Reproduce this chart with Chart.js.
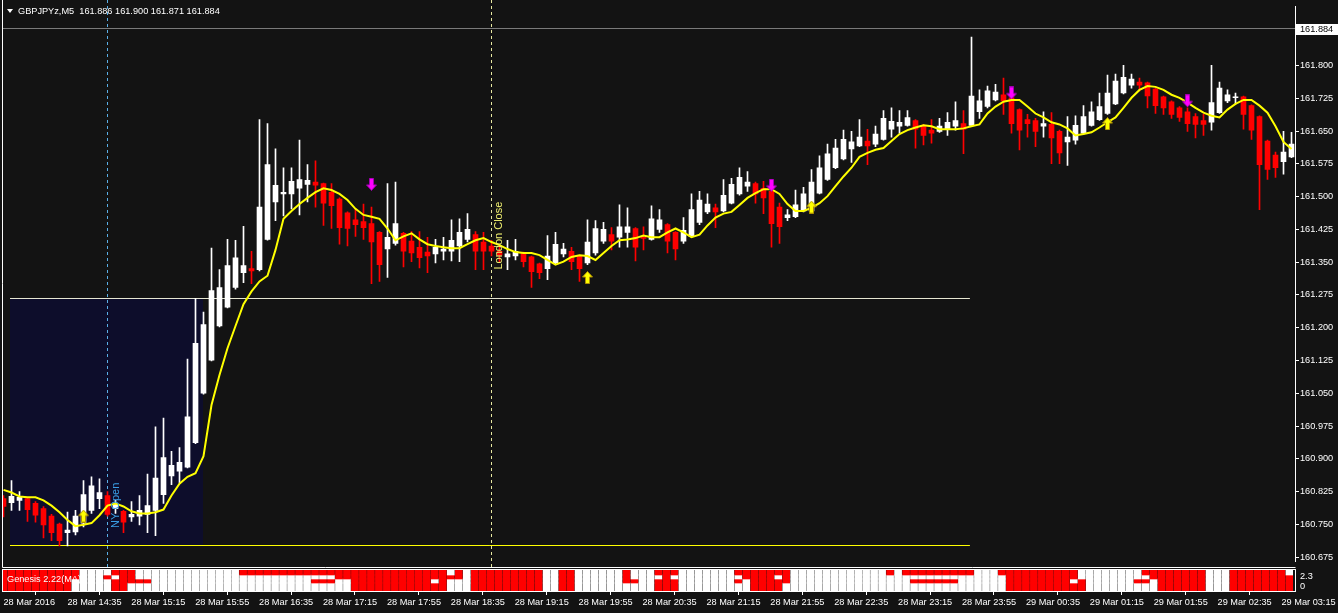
<!DOCTYPE html>
<html>
<head>
<meta charset="utf-8">
<script src="https://cdn.jsdelivr.net/npm/chart.js@4.4.1/dist/chart.umd.min.js"></script>
<style>
  html, body { margin: 0; padding: 0; background: #131313; }
  #wrap { position: relative; width: 1338px; height: 613px; overflow: hidden; }
  #price { position: absolute; left: 0; top: 0; }
  #genesis { position: absolute; left: 0; top: 568px; }
</style>
</head>
<body>
<div id="wrap">
  <canvas id="price" width="1338" height="568"></canvas>
  <canvas id="genesis" width="1338" height="45"></canvas>
</div>
<script>
// GBPJPYz M5, one value per bar, bar 0 = 28 Mar 13:55
const opens = [
  160.809,160.800,160.805,160.809,160.798,160.786,160.769,160.751,160.731,160.733,
  160.753,160.782,160.809,160.816,160.786,160.780,160.767,160.769,160.773,160.782,
  160.818,160.861,160.872,160.881,160.937,161.050,161.126,161.204,161.247,161.292,
  161.326,161.335,161.333,161.402,161.488,161.506,161.506,161.519,161.528,161.533,
  161.530,161.510,161.494,161.463,161.447,161.443,161.438,161.418,161.380,161.393,
  161.416,161.398,161.384,161.373,161.369,161.375,161.375,161.387,161.402,161.413,
  161.396,161.387,161.375,161.362,161.364,161.371,161.362,161.346,161.335,161.348,
  161.369,161.375,161.364,161.348,161.371,161.398,161.413,161.407,161.418,161.427,
  161.407,161.402,161.425,161.436,161.418,161.398,161.409,161.441,161.465,161.474,
  161.467,161.485,161.506,161.524,161.530,161.519,161.512,161.476,161.452,161.454,
  161.467,161.467,161.508,161.539,161.566,161.586,161.609,161.616,161.627,161.620,
  161.631,161.654,161.661,161.663,161.674,161.663,161.652,161.649,161.654,161.661,
  161.667,161.663,161.694,161.706,161.721,161.733,161.726,161.699,161.676,161.674,
  161.661,161.665,161.649,161.625,161.629,161.645,161.663,161.676,161.690,161.712,
  161.737,161.755,161.762,161.760,161.746,161.728,161.717,161.703,161.694,161.683,
  161.674,161.670,161.692,161.719,161.726,161.728,161.708,161.683,161.627,161.595,
  161.580,161.591
];
const highs = [
  160.816,160.850,160.825,160.812,160.802,160.791,160.773,160.753,160.778,160.782,
  160.850,160.859,160.854,160.825,160.805,160.782,160.802,160.816,160.865,160.973,
  160.993,160.917,160.926,161.128,161.267,161.236,161.382,161.333,161.402,161.400,
  161.432,161.375,161.676,161.667,161.609,161.566,161.566,161.629,161.573,161.582,
  161.531,161.530,161.497,161.465,161.472,161.483,161.476,161.420,161.530,161.533,
  161.418,161.420,161.420,161.407,161.402,161.407,161.447,161.449,161.461,161.420,
  161.418,161.400,161.389,161.400,161.402,161.373,161.364,161.348,161.411,161.418,
  161.393,161.384,161.366,161.447,161.445,161.441,161.429,161.481,161.474,161.429,
  161.431,161.479,161.470,161.438,161.420,161.452,161.506,161.512,161.506,161.483,
  161.539,161.542,161.566,161.557,161.533,161.535,161.517,161.485,161.470,161.515,
  161.521,161.562,161.593,161.620,161.631,161.652,161.649,161.676,161.654,161.661,
  161.697,161.703,161.697,161.697,161.676,161.665,161.676,161.679,161.692,161.717,
  161.697,161.865,161.744,161.753,161.757,161.771,161.728,161.701,161.688,161.679,
  161.694,161.692,161.652,161.683,161.685,161.708,161.717,161.737,161.778,161.780,
  161.800,161.780,161.771,161.762,161.748,161.730,161.719,161.706,161.703,161.690,
  161.688,161.800,161.762,161.744,161.737,161.730,161.710,161.685,161.629,161.602,
  161.649,161.647
];
const lows = [
  160.767,160.782,160.782,160.757,160.755,160.719,160.713,160.701,160.701,160.726,
  160.744,160.775,160.786,160.769,160.775,160.731,160.757,160.749,160.731,160.724,
  160.798,160.841,160.845,160.879,160.935,161.048,161.124,161.202,161.245,161.288,
  161.303,161.301,161.330,161.400,161.445,161.456,161.472,161.458,161.488,161.476,
  161.434,161.427,161.391,161.387,161.409,161.402,161.301,161.306,161.315,161.389,
  161.339,161.351,161.337,161.326,161.348,161.355,161.353,161.351,161.396,161.333,
  161.333,161.364,161.351,161.333,161.355,161.339,161.292,161.312,161.310,161.344,
  161.362,161.333,161.306,161.344,161.366,161.393,161.378,161.384,161.384,161.353,
  161.378,161.400,161.418,161.371,161.355,161.393,161.407,161.436,161.461,161.429,
  161.465,161.483,161.503,161.512,161.485,161.461,161.384,161.393,161.445,161.452,
  161.465,161.465,161.506,161.537,161.564,161.584,161.578,161.614,161.573,161.614,
  161.629,161.636,161.645,161.661,161.611,161.618,161.622,161.647,161.640,161.652,
  161.598,161.661,161.679,161.703,161.719,161.688,161.645,161.607,161.636,161.614,
  161.636,161.575,161.575,161.571,161.620,161.643,161.661,161.674,161.688,161.710,
  161.735,161.748,161.742,161.703,161.690,161.688,161.679,161.672,161.649,161.634,
  161.640,161.652,161.690,161.715,161.712,161.654,161.631,161.470,161.539,161.544,
  161.551,161.589
];
const closes = [
  160.791,160.814,160.812,160.784,160.771,160.749,160.731,160.713,160.737,160.769,
  160.818,160.838,160.823,160.773,160.796,160.755,160.773,160.782,160.793,160.856,
  160.903,160.885,160.892,160.996,161.164,161.207,161.285,161.292,161.342,161.360,
  161.342,161.330,161.476,161.573,161.526,161.510,161.535,161.539,161.537,161.526,
  161.485,161.479,161.429,161.427,161.436,161.429,161.396,161.344,161.407,161.438,
  161.375,161.371,161.360,161.364,161.384,161.380,161.400,161.418,161.425,161.375,
  161.375,161.375,161.366,161.369,161.375,161.351,161.328,161.326,161.364,161.391,
  161.380,161.351,161.335,161.396,161.427,161.425,161.398,161.431,161.431,161.384,
  161.404,161.449,161.447,161.398,161.380,161.423,161.470,161.492,161.483,161.465,
  161.503,161.528,161.544,161.533,161.506,161.497,161.438,161.431,161.458,161.481,
  161.506,161.533,161.566,161.598,161.611,161.631,161.625,161.636,161.616,161.643,
  161.679,161.672,161.670,161.681,161.654,161.640,161.645,161.661,161.670,161.674,
  161.654,161.730,161.719,161.742,161.739,161.719,161.667,161.652,161.667,161.649,
  161.667,161.634,161.600,161.636,161.663,161.683,161.694,161.706,161.737,161.764,
  161.773,161.769,161.755,161.730,161.708,161.703,161.688,161.681,161.667,161.665,
  161.665,161.715,161.748,161.733,161.728,161.688,161.652,161.573,161.562,161.566,
  161.602,161.620
];
// yellow moving average
const maValues = [
  160.829,160.823,160.814,160.812,160.812,160.805,160.793,160.778,160.760,160.746,
  160.749,160.753,160.771,160.793,160.798,160.791,160.780,160.775,160.775,160.778,
  160.784,160.816,160.843,160.859,160.867,160.906,161.023,161.092,161.153,161.204,
  161.254,161.283,161.306,161.319,161.378,161.449,161.467,161.483,161.497,161.510,
  161.519,161.515,161.506,161.492,161.472,161.458,161.454,161.449,161.427,161.400,
  161.409,161.416,161.402,161.391,161.387,161.384,161.382,161.382,161.391,161.400,
  161.405,161.396,161.389,161.380,161.373,161.371,161.371,161.366,161.355,161.344,
  161.351,161.362,161.366,161.364,161.355,161.371,161.387,161.400,161.402,161.405,
  161.411,161.407,161.407,161.418,161.427,161.418,161.407,161.413,161.434,161.452,
  161.461,161.465,161.481,161.497,161.508,161.517,161.517,161.506,161.483,161.467,
  161.467,161.474,161.485,161.501,161.524,161.546,161.566,161.591,161.600,161.607,
  161.611,161.627,161.643,161.652,161.658,161.663,161.661,161.654,161.654,161.654,
  161.656,161.661,161.665,161.690,161.706,161.717,161.721,161.721,161.706,161.690,
  161.681,161.670,161.665,161.656,161.640,161.643,161.647,161.658,161.670,161.681,
  161.703,161.726,161.744,161.753,161.751,161.744,161.733,161.726,161.715,161.703,
  161.692,161.685,161.681,161.699,161.712,161.721,161.721,161.708,161.692,161.661,
  161.625,161.609
];
// signal arrows
const upArrowBars = [10, 73, 101, 138];
const upArrowPrices = [160.769, 161.315, 161.476, 161.667];
const downArrowBars = [46, 96, 126, 148];
const downArrowPrices = [161.528, 161.526, 161.737, 161.719];

// Genesis panel: 4 rows per bar, top to bottom, 1 = red
const genesisCodes = [
  "1111","1111","1111","1111","1111","1111","1111","1111","1111","1100",
  "0000","0000","0000","0100","1011","1111","1110","0010","0010","0000",
  "0000","0000","0000","0000","0000","0000","0000","0000","0000","0000",
  "1000","1000","1000","1000","1000","1000","1000","1000","1000","1010",
  "1010","1010","1100","1100","1111","1111","1111","1111","1111","1111",
  "1111","1111","1111","1111","1101","1111","0100","1100","0000","1111",
  "1111","1111","1111","1111","1111","1111","1111","1111","0000","0000",
  "1111","1111","0000","0000","0000","0000","0000","0000","1110","0010",
  "0000","0000","1011","1111","1011","0000","0000","0000","0000","0000",
  "0000","0000","1010","1100","1111","1111","1111","1011","1110","0000",
  "0000","0000","0000","0000","0000","0000","0000","0000","0000","0000",
  "0000","1000","0000","1000","1010","1010","1010","1010","1010","1010",
  "1000","1000","0000","0000","0000","1000","1111","1111","1111","1111",
  "1111","1111","1111","1111","1101","0011","0000","0000","0000","0000",
  "0000","0000","0010","1010","1100","1111","1111","1111","1111","1111",
  "1111","0000","0000","0000","1111","1111","1111","1111","1111","1111",
  "1111","0111"
];

// session levels and markers
const sessionHigh = 161.267;
const sessionLow = 160.704;
const sessionStartBar = 0.8;
const sessionEndBar = 24.95;
const levelsEndBar = 120.8;
const nyOpenBar = 13;
const londonCloseBar = 61;
const nyLabelPrice = 160.742;
const londonLabelPrice = 161.333;
const bidPrice = 161.884;

const priceTicks = [160.675,160.750,160.825,160.900,160.975,161.050,161.125,161.200,161.275,
  161.350,161.425,161.500,161.575,161.650,161.725,161.800,161.875];
const tickBars = [0,8,16,24,32,40,48,56,64,72,80,88,96,104,112,120,128,136,144,152,160];
const timeLabels = ["28 Mar 2016","28 Mar 14:35","28 Mar 15:15","28 Mar 15:55","28 Mar 16:35",
  "28 Mar 17:15","28 Mar 17:55","28 Mar 18:35","28 Mar 19:15","28 Mar 19:55","28 Mar 20:35",
  "28 Mar 21:15","28 Mar 21:55","28 Mar 22:35","28 Mar 23:15","28 Mar 23:55","29 Mar 00:35",
  "29 Mar 01:15","29 Mar 01:55","29 Mar 02:35","29 Mar 03:15"];
const headerText = "GBPJPYz,M5  161.886 161.900 161.871 161.884";

// ---- look ----
const BG = '#131313';
const BULL = '#ffffff';
const BEAR = '#ff0000';
const TXT = '#ffffff';
const FONT = "'Liberation Sans', Arial, sans-serif";
const X_MIN = -0.0625, X_MAX = 161.4375;
const Y_MIN = 160.6652, Y_MAX = 161.9348;
const ROWS = [[16, 21], [12, 16], [8, 12], [0, 8]];

Chart.defaults.font.family = FONT;
Chart.defaults.font.size = 9.2;

const bars = opens.map((v, i) => i);

function arrowImage(up, fill, edge) {
  const c = document.createElement('canvas');
  c.width = 11; c.height = 13;
  const g = c.getContext('2d');
  g.beginPath();
  if (up) {
    g.moveTo(5.5, 0.5); g.lineTo(10.5, 6); g.lineTo(7.5, 6); g.lineTo(7.5, 12.5);
    g.lineTo(3.5, 12.5); g.lineTo(3.5, 6); g.lineTo(0.5, 6);
  } else {
    g.moveTo(5.5, 12.5); g.lineTo(10.5, 7); g.lineTo(7.5, 7); g.lineTo(7.5, 0.5);
    g.lineTo(3.5, 0.5); g.lineTo(3.5, 7); g.lineTo(0.5, 7);
  }
  g.closePath();
  g.fillStyle = fill; g.fill();
  g.strokeStyle = edge; g.lineWidth = 1; g.stroke();
  return c;
}
const upImg = arrowImage(true, '#ffff00', '#b09000');
const downImg = arrowImage(false, '#ff00ff', '#a000b0');

const candleColor = i => closes[i] >= opens[i] ? BULL : BEAR;

const decor = {
  id: 'decor',
  beforeDraw(chart) {
    const c = chart.ctx;
    c.save();
    c.fillStyle = BG;
    c.fillRect(0, 0, chart.width, chart.height);
    c.restore();
  },
  beforeDatasetsDraw(chart) {
    const { ctx, scales: { x, y } } = chart;
    ctx.save();
    const bx1 = Math.round(x.getPixelForValue(sessionStartBar)), bx2 = Math.round(x.getPixelForValue(sessionEndBar));
    const yH = Math.round(y.getPixelForValue(sessionHigh)), yL = Math.round(y.getPixelForValue(sessionLow));
    ctx.fillStyle = '#0d0d2b';
    ctx.fillRect(bx1, yH, bx2 - bx1, yL - yH);
    const lx2 = x.getPixelForValue(levelsEndBar);
    ctx.lineWidth = 1;
    ctx.strokeStyle = '#e6e6d2';
    ctx.beginPath(); ctx.moveTo(bx1, yH + 0.5); ctx.lineTo(lx2, yH + 0.5); ctx.stroke();
    ctx.strokeStyle = '#ffff00';
    ctx.beginPath(); ctx.moveTo(bx1, yL + 0.5); ctx.lineTo(lx2, yL + 0.5); ctx.stroke();
    // session verticals
    ctx.setLineDash([3, 3]);
    const nx = Math.floor(x.getPixelForValue(nyOpenBar)) + 0.5;
    ctx.strokeStyle = '#5ab0e8';
    ctx.beginPath(); ctx.moveTo(nx, 0); ctx.lineTo(nx, 567); ctx.stroke();
    const lcx = Math.floor(x.getPixelForValue(londonCloseBar)) + 0.5;
    ctx.strokeStyle = '#e8e8a0';
    ctx.beginPath(); ctx.moveTo(lcx, 0); ctx.lineTo(lcx, 567); ctx.stroke();
    ctx.setLineDash([]);
    // bid line
    const by = Math.floor(y.getPixelForValue(bidPrice)) + 0.5;
    ctx.strokeStyle = '#7a7a7a';
    ctx.beginPath(); ctx.moveTo(3, by); ctx.lineTo(1295, by); ctx.stroke();
    ctx.restore();
  },
  afterDatasetsDraw(chart) {
    const { ctx, scales: { x, y } } = chart;
    ctx.save();
    ctx.font = "11px " + FONT;
    ctx.textBaseline = 'top';
    ctx.textAlign = 'left';
    ctx.translate(x.getPixelForValue(nyOpenBar) + 3, y.getPixelForValue(nyLabelPrice));
    ctx.rotate(-Math.PI / 2);
    ctx.fillStyle = '#3a9fe6';
    ctx.fillText('NY Open', 0, 0);
    ctx.restore();
    ctx.save();
    ctx.font = "11px " + FONT;
    ctx.textBaseline = 'top';
    ctx.textAlign = 'left';
    ctx.translate(x.getPixelForValue(londonCloseBar) + 2, y.getPixelForValue(londonLabelPrice));
    ctx.rotate(-Math.PI / 2);
    ctx.fillStyle = '#f0f070';
    ctx.fillText('London Close', 0, 0);
    ctx.restore();
  },
  afterDraw(chart) {
    const { ctx, scales: { y } } = chart;
    ctx.save();
    // frame
    ctx.strokeStyle = '#ffffff';
    ctx.lineWidth = 1;
    ctx.beginPath();
    ctx.moveTo(2.5, 0); ctx.lineTo(2.5, 567.5); ctx.lineTo(1295.5, 567.5);
    ctx.stroke();
    // header
    ctx.fillStyle = '#ffffff';
    ctx.beginPath(); ctx.moveTo(7, 9); ctx.lineTo(13, 9); ctx.lineTo(10, 13); ctx.closePath(); ctx.fill();
    ctx.font = "9.2px " + FONT;
    ctx.textBaseline = 'alphabetic';
    ctx.fillText(headerText, 18, 14);
    // bid price box
    const by = y.getPixelForValue(bidPrice);
    ctx.fillStyle = '#ffffff';
    ctx.fillRect(1296, Math.round(by) - 5, 42, 11);
    ctx.fillStyle = '#000000';
    ctx.textBaseline = 'middle';
    ctx.fillText(bidPrice.toFixed(3), 1300, Math.round(by) + 0.5);
    ctx.restore();
  }
};

new Chart(document.getElementById('price'), {
  type: 'bar',
  data: {
    datasets: [
      {
        type: 'line', order: 0,
        data: upArrowBars.map((b, k) => ({ x: b, y: upArrowPrices[k] })),
        showLine: false, pointStyle: upImg, pointRadius: 5
      },
      {
        type: 'line', order: 0,
        data: downArrowBars.map((b, k) => ({ x: b, y: downArrowPrices[k] })),
        showLine: false, pointStyle: downImg, pointRadius: 5
      },
      {
        type: 'line', order: 1,
        data: bars.map(i => ({ x: i, y: maValues[i] })),
        borderColor: '#ffff00', borderWidth: 2, pointRadius: 0, tension: 0
      },
      {
        order: 2,
        data: bars.map(i => ({ x: i, y: [opens[i], closes[i]] })),
        backgroundColor: bars.map(candleColor),
        barThickness: 5, grouped: false, borderWidth: 0, minBarLength: 1
      },
      {
        order: 3,
        data: bars.map(i => ({ x: i, y: [lows[i], highs[i]] })),
        backgroundColor: bars.map(candleColor),
        barThickness: 1, grouped: false, borderWidth: 0, minBarLength: 1
      }
    ]
  },
  options: {
    responsive: false, animation: false, devicePixelRatio: 1, events: [],
    layout: { autoPadding: false, padding: { left: 3, top: 2, right: 0, bottom: 1 } },
    plugins: { legend: { display: false }, tooltip: { enabled: false } },
    scales: {
      x: { type: 'linear', min: X_MIN, max: X_MAX, offset: false, display: false },
      y: {
        position: 'right', min: Y_MIN, max: Y_MAX,
        afterFit(s) { s.width = 43; },
        afterBuildTicks(s) { s.ticks = priceTicks.map(v => ({ value: v })); },
        ticks: { color: TXT, padding: 1, callback: v => v.toFixed(3) },
        grid: { drawOnChartArea: false, color: '#ffffff', tickLength: 4 },
        border: { color: '#ffffff' }
      }
    }
  },
  plugins: [decor]
});

const panelDecor = {
  id: 'panelDecor',
  beforeDraw(chart) {
    const c = chart.ctx;
    c.save();
    c.fillStyle = BG;
    c.fillRect(0, 0, chart.width, chart.height);
    c.restore();
  },
  afterDatasetsDraw(chart) {
    const c = chart.ctx;
    c.save();
    c.fillStyle = '#ffffff';
    c.font = "9.2px " + FONT;
    c.textBaseline = 'middle';
    c.fillText('Genesis 2.22(MA)', 7, 11);
    c.restore();
  },
  afterDraw(chart) {
    const c = chart.ctx;
    c.save();
    c.strokeStyle = '#ffffff';
    c.lineWidth = 1;
    c.strokeRect(2.5, 1.5, 1293, 22);
    c.fillStyle = TXT;
    c.font = "9.2px " + FONT;
    c.textBaseline = 'middle';
    c.fillText('2.3', 1300, 8);
    c.fillText('0', 1300, 18);
    c.restore();
  }
};

new Chart(document.getElementById('genesis'), {
  type: 'bar',
  data: {
    datasets: ROWS.map((r, k) => ({
      data: bars.map(i => ({ x: i, y: [r[0], r[1]] })),
      backgroundColor: bars.map(i => genesisCodes[i][k] === '1' ? BEAR : BULL),
      barThickness: 7, grouped: false, borderWidth: 0
    }))
  },
  options: {
    responsive: false, animation: false, devicePixelRatio: 1, events: [],
    layout: { autoPadding: false, padding: { left: 3, top: 2, right: 0, bottom: 0 } },
    plugins: { legend: { display: false }, tooltip: { enabled: false } },
    scales: {
      x: {
        type: 'linear', min: X_MIN, max: X_MAX, offset: false,
        afterFit(s) { s.height = 22; },
        afterBuildTicks(s) { s.ticks = tickBars.map(v => ({ value: v })); },
        ticks: {
          color: TXT, align: 'start', autoSkip: false, maxRotation: 0, padding: 2,
          callback: (v, idx) => timeLabels[idx]
        },
        grid: { drawOnChartArea: false, color: '#ffffff', tickLength: 4 },
        border: { color: '#ffffff' }
      },
      y: {
        position: 'right', min: 0, max: 21,
        afterFit(s) { s.width = 43; },
        ticks: { display: false },
        grid: { display: false },
        border: { color: '#ffffff' }
      }
    }
  },
  plugins: [panelDecor]
});
</script>
</body>
</html>
